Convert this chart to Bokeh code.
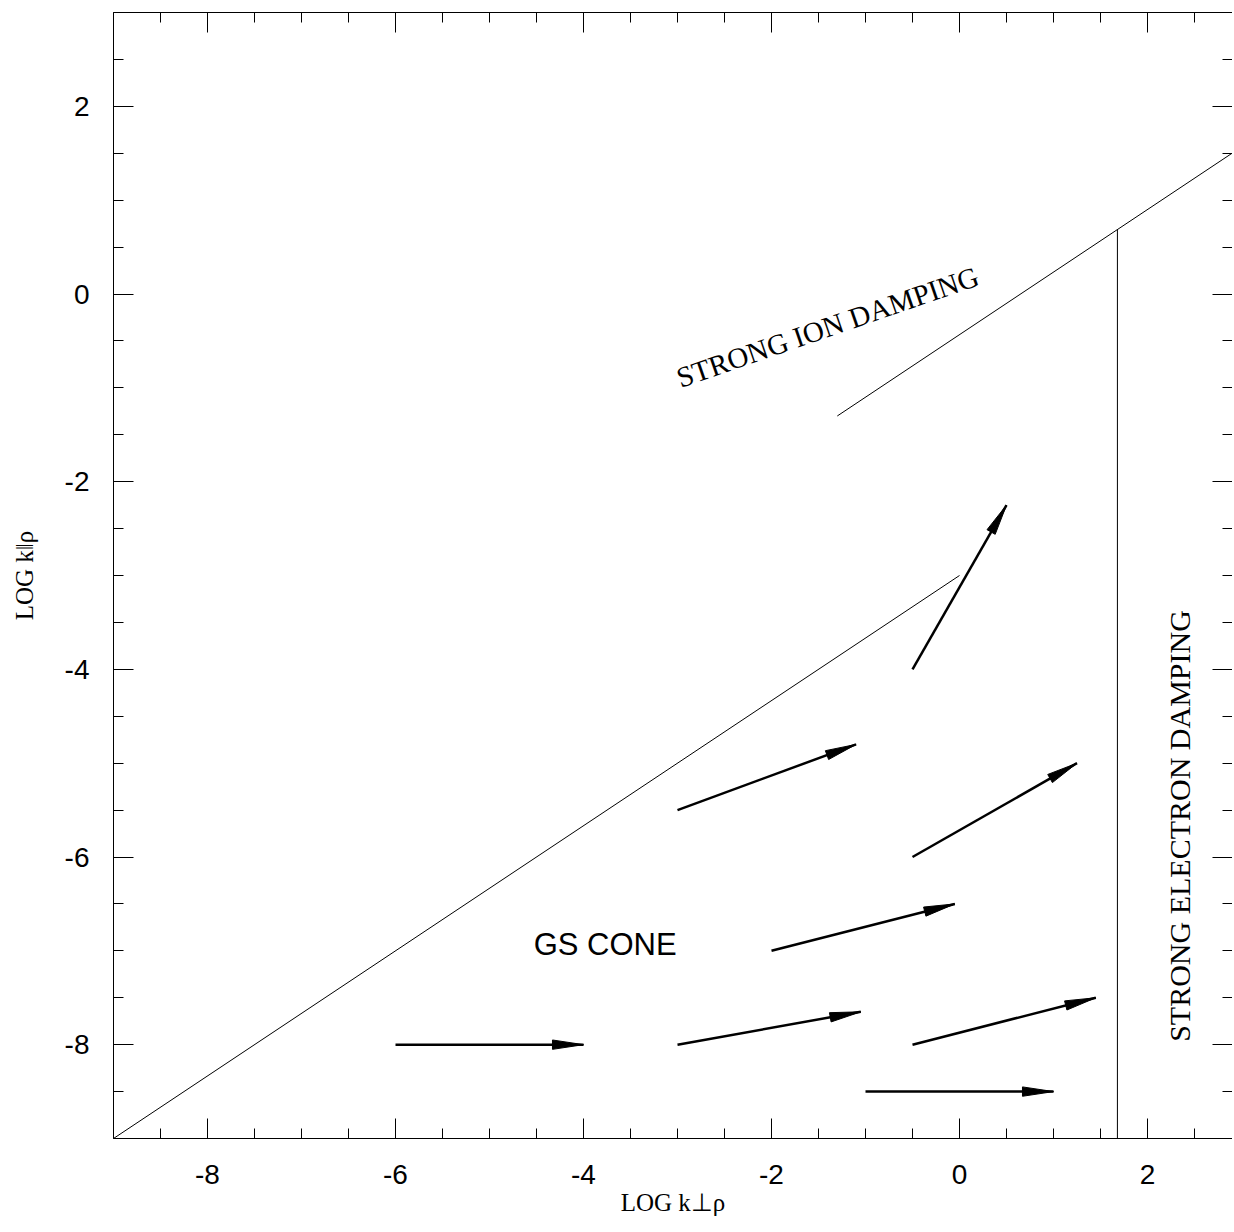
import numpy as np
from bokeh.plotting import figure
from bokeh.models import FixedTicker, LinearAxis, Label
from bokeh.embed import file_html
from bokeh.resources import INLINE

# ---- data ----
x_ticks = [-8, -6, -4, -2, 0, 2]
y_ticks = [-8, -6, -4, -2, 0, 2]
minor_ticks = [-9 + 0.5 * i for i in range(25)]

cone_x = [-9.0, 0.0]
cone_y = [-9.0, -3.0]
ion_x = [-1.3, 3.0]
ion_y = [-1.3, 1.567]
elec_x = [1.68, 1.68]
elec_y = [-9.0, 0.69]

arrow_x0 = [-0.5, -3.0, -0.5, -2.0, -6.0, -3.0, -0.5, -1.0]
arrow_y0 = [-4.0, -5.5, -6.0, -7.0, -8.0, -8.0, -8.0, -8.5]
arrow_x1 = [0.5, -1.1, 1.25, -0.05, -4.0, -1.05, 1.45, 1.0]
arrow_y1 = [-2.25, -4.8, -5.0, -6.5, -8.0, -7.65, -7.5, -8.5]

x_title = "LOG k⊥ρ"
y_title = "LOG k‖ρ"

# ---- figure ----
PX = 94.0
FW, FH = 1119, 1126
p = figure(frame_width=FW, frame_height=FH,
           x_range=(-9, -9 + FW / PX), y_range=(-9, 3),
           min_border_left=113, min_border_top=12, min_border_bottom=94,
           min_border_right=0,
           x_axis_location=None, y_axis_location=None,
           output_backend="svg", toolbar_location=None)
p.grid.visible = False
p.outline_line_color = None
p.background_fill_color = "white"
p.border_fill_color = "white"


def style_axis(ax, labels=True):
    ax.axis_line_color = "black"
    ax.axis_line_width = 1
    ax.major_tick_in = 20
    ax.major_tick_out = 0
    ax.minor_tick_in = 10
    ax.minor_tick_out = 0
    ax.major_tick_line_color = "black"
    ax.minor_tick_line_color = "black"
    if labels:
        ax.major_label_text_font = "Liberation Sans"
        ax.major_label_text_font_size = "28px"
        ax.major_label_text_color = "black"
        ax.major_label_overrides = {t: str(t) for t in x_ticks}
        ax.axis_label_text_font = "Liberation Serif"
        ax.axis_label_text_font_style = "normal"
        ax.axis_label_text_font_size = "25px"
        ax.axis_label_text_color = "black"
    else:
        ax.major_label_text_color = None
        ax.major_label_text_font_size = "1px"
        ax.major_label_standoff = 0


bx = LinearAxis(ticker=FixedTicker(ticks=x_ticks, minor_ticks=minor_ticks))
style_axis(bx)
bx.major_label_standoff = 26
bx.axis_label = x_title
bx.axis_label_standoff = 2
p.add_layout(bx, "below")

tx = LinearAxis(ticker=FixedTicker(ticks=x_ticks, minor_ticks=minor_ticks))
style_axis(tx, labels=False)
p.add_layout(tx, "above")

ly = LinearAxis(ticker=FixedTicker(ticks=y_ticks, minor_ticks=minor_ticks))
style_axis(ly)
ly.major_label_standoff = 24
ly.axis_label = y_title
ly.axis_label_standoff = 24
p.add_layout(ly, "left")

ry = LinearAxis(ticker=FixedTicker(ticks=y_ticks, minor_ticks=minor_ticks))
style_axis(ry, labels=False)
ry.axis_line_color = None
p.add_layout(ry, "right")

# ---- lines ----
p.line(cone_x, cone_y, line_color="black", line_width=1)
p.line(ion_x, ion_y, line_color="black", line_width=1)
p.line(elec_x, elec_y, line_color="black", line_width=1)

# ---- arrows ----
x0 = np.array(arrow_x0); y0 = np.array(arrow_y0)
x1 = np.array(arrow_x1); y1 = np.array(arrow_y1)
p.segment(x0=x0, y0=y0, x1=x1, y1=y1, line_color="black", line_width=2.5)
dx = x1 - x0; dy = y1 - y0
ln = np.hypot(dx, dy)
ux, uy = dx / ln, dy / ln
nx, ny = -uy, ux
HL, HW = 0.33, 0.05
bxs = x1 - HL * ux; bys = y1 - HL * uy
xs = [[float(a), float(b + HW * c), float(b - HW * c)] for a, b, c in zip(x1, bxs, nx)]
ys = [[float(a), float(b + HW * c), float(b - HW * c)] for a, b, c in zip(y1, bys, ny)]
p.patches(xs, ys, fill_color="black", line_color="black", line_width=1)

# ---- annotations ----
SERIF = "Liberation Serif"
p.add_layout(Label(x=-3.0, y=-0.9, text="STRONG ION DAMPING", angle=19, angle_units="deg",
                   text_font=SERIF, text_font_size="29px", text_color="black",
                   text_align="left", text_baseline="alphabetic"))
p.add_layout(Label(x=2.34, y=-7.97, text="STRONG ELECTRON DAMPING", angle=90, angle_units="deg",
                   text_font=SERIF, text_font_size="30px", text_color="black",
                   text_align="left", text_baseline="alphabetic"))
p.add_layout(Label(x=-4.53, y=-6.93, text="GS CONE",
                   text_font="Liberation Sans", text_font_size="31px", text_color="black",
                   text_align="left", text_baseline="alphabetic"))

open("out.html", "w").write(file_html(p, INLINE))
